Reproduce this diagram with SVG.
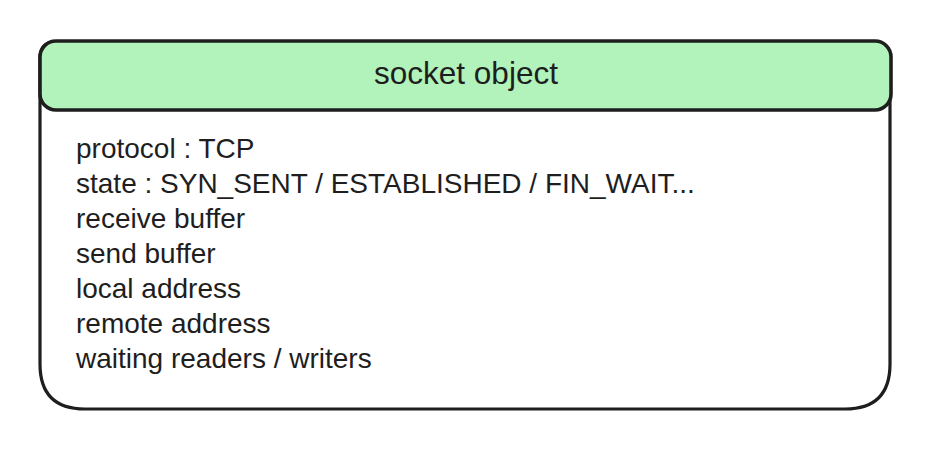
<svg xmlns="http://www.w3.org/2000/svg" width="931" height="449" viewBox="0 0 931 449">
<style>
.box{fill:#ffffff;stroke:#1e1e1e;stroke-width:3.2;stroke-linecap:round;stroke-linejoin:round}
.hdr{fill:#b2f2bb;stroke:#1e1e1e;stroke-width:3.6;stroke-linejoin:round}
.t{font-family:"Liberation Sans",Arial,Helvetica,sans-serif;fill:#1e1e1e}
.title{font-size:31.5px}
.body{font-size:28px}
</style>
<rect width="931" height="449" fill="#ffffff"/>
<g id="socket-object">
<path class="box" d="M55,42 L874,42 Q890,42 890,58 L890,364 Q890,409 845,409 L85,409 Q40,409 40,364 L40,58 Q40,42 55,42 Z"/>
<rect class="hdr" x="40" y="41" width="851" height="69" rx="16" ry="16"/>
<text class="t title" x="466" y="84" text-anchor="middle">socket object</text>
<text class="t body" x="76" y="158">protocol : TCP</text>
<text class="t body" x="76" y="193">state : SYN_SENT / ESTABLISHED / FIN_WAIT...</text>
<text class="t body" x="76" y="228">receive buffer</text>
<text class="t body" x="76" y="263">send buffer</text>
<text class="t body" x="76" y="298">local address</text>
<text class="t body" x="76" y="333">remote address</text>
<text class="t body" x="76" y="368">waiting readers / writers</text>
</g>
</svg>
